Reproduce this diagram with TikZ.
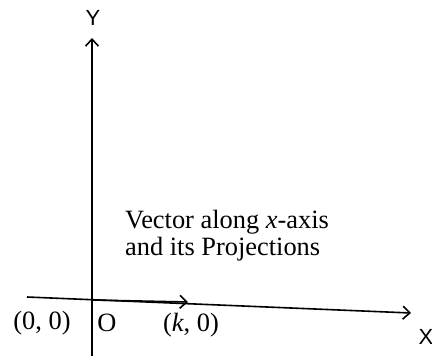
\documentclass[tikz,border=0pt]{standalone}
\usepackage{fontspec}
\setmainfont{Liberation Serif}
\newfontfamily\axfont{Liberation Sans}
\usetikzlibrary{arrows.meta}
\begin{document}
\begin{tikzpicture}[x=1bp,y=-1bp,
  axis/.style={line width=1.6bp,-{Straight Barb[length=7bp,width=13bp,line width=1.6bp]}},
  lbl/.style={inner sep=0pt,font=\fontsize{26.5}{27}\selectfont}]
\useasboundingbox (0,0) rectangle (432,356);
\coordinate (O) at (92,300);
\coordinate (ybot) at (92,356);
\coordinate (ytop) at (92,38);
\coordinate (xl) at (27,297);
\coordinate (xr) at (411,313);
\coordinate (k) at (188,302);
\draw[axis] (ybot) -- (ytop);
\draw[axis] (xl) -- (xr);
\draw[axis] (O) -- (k);
\node[lbl,font=\axfont\fontsize{22}{24}\selectfont] (Y) at (93,18) {Y};
\node[lbl,font=\axfont\fontsize{22}{24}\selectfont] (X) at (426,337) {X};
\node[lbl] (zero) at (42,323) {(0, 0)};
\node[lbl] (Olbl) at (107,323) {O};
\node[lbl] (klbl) at (191,325) {(\textit{k}, 0)};
\node[lbl,align=left] (txt) at (227,236) {Vector along \textit{x}-axis\\and its Projections};
\end{tikzpicture}
\end{document}
